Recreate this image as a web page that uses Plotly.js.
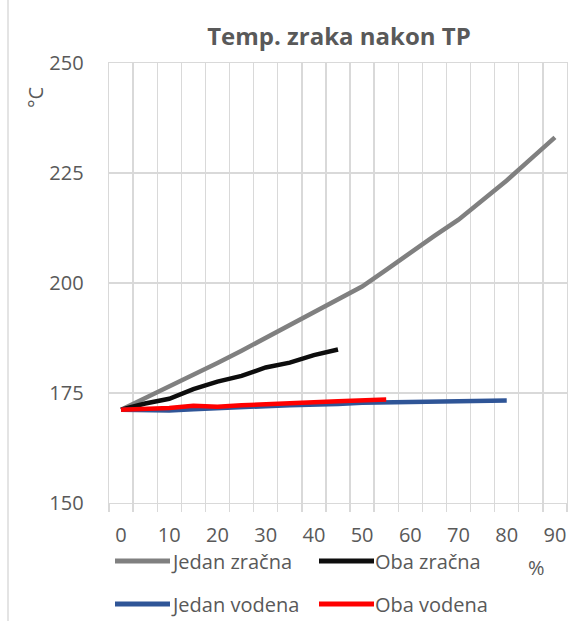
<!DOCTYPE html>
<html>
<head>
<meta charset="utf-8">
<script src="https://cdn.plot.ly/plotly-3.0.1.min.js"></script>
<style>html,body{margin:0;padding:0;background:#fff;}#chart{width:577px;height:621px;}</style>
</head>
<body>
<div id="chart"></div>
<script>
// ---- data ----
var seriesNames = ["Jedan zračna", "Oba zračna", "Jedan vodena", "Oba vodena"];
var seriesColors = ["#808080", "#0d0d0d", "#2f5597", "#ff0000"];

var xJedanZracna = [0,5,10,15,20,25,30,35,40,45,50,55,60,65,70,75,80,85,90];
var yJedanZracna = [171.2,173.8,176.5,179.1,181.8,184.6,187.5,190.5,193.5,196.4,199.2,203.0,207.0,210.7,214.4,218.7,223.3,228.2,233.1];

var xObaZracna = [0,5,10,15,20,25,30,35,40,45];
var yObaZracna = [171.2,172.6,173.7,175.9,177.6,178.9,180.8,181.9,183.6,184.9];

var xJedanVodena = [0,5,10,15,20,25,30,35,40,45,50,55,60,65,70,75,80];
var yJedanVodena = [171.2,171.1,171.0,171.3,171.6,171.8,172.0,172.2,172.3,172.5,172.8,172.9,173.0,173.1,173.2,173.3,173.3];

var xObaVodena = [0,5,10,15,20,25,30,35,40,45,50,55];
var yObaVodena = [171.2,171.3,171.6,172.1,171.9,172.2,172.5,172.7,172.9,173.1,173.3,173.5];

var xTickVals = [0,10,20,30,40,50,60,70,80,90];
var xCategoryEdges = [-2.5,2.5,7.5,12.5,17.5,22.5,27.5,32.5,37.5,42.5,47.5,52.5,57.5,62.5,67.5,72.5,77.5,82.5,87.5,92.5];
var yTickVals = [150,175,200,225,250];

var chartTitle = "Temp. zraka nakon TP";
var yTitle = "°C";
var xTitle = "%";

// ---- layout helpers ----
var W = 577, H = 621;
var M = {l:109, r:10, t:63, b:118};
var PW = W - M.l - M.r, PH = H - M.t - M.b;
function px(x){ return (x - M.l) / PW; }
function py(y){ return (H - M.b - y) / PH; }

var FONT = "Open Sans, sans-serif";
var TXT = "#595959";
var GRID = "#d9d9d9";
var GW = 1.4;

var xs = [xJedanZracna, xObaZracna, xJedanVodena, xObaVodena];
var ys = [yJedanZracna, yObaZracna, yJedanVodena, yObaVodena];
var traces = [
  // invisible carrier so the category-edge grid axis (x2) gets drawn
  {x: xJedanZracna, y: yJedanZracna, xaxis: "x2", yaxis: "y", type: "scatter", mode: "lines",
   line: {width: 0, color: "rgba(0,0,0,0)"}, opacity: 0, showlegend: false, hoverinfo: "skip"}
];
for (var i = 0; i < 4; i++) {
  traces.push({
    x: xs[i], y: ys[i], type: "scatter", mode: "lines", name: seriesNames[i],
    line: {color: seriesColors[i], width: 4.5},
    showlegend: false, hoverinfo: "x+y"
  });
}

// custom legend (Excel style, long line samples)
var legendPos = [
  {lx0:115, lx1:170, tx:170, y:561},
  {lx0:319, lx1:374, tx:374, y:561},
  {lx0:115, lx1:170, tx:170, y:604},
  {lx0:319, lx1:374, tx:374, y:604}
];
var shapes = [
  {type:"line", xref:"paper", yref:"paper", x0:px(8), x1:px(8), y0:py(621), y1:py(0),
   line:{color:GRID, width:GW}}
];
var annotations = [
  {text: yTitle, xref:"paper", yref:"paper", x:px(35), y:py(98), showarrow:false,
   textangle:-90, font:{family:FONT, size:20, color:TXT}, xanchor:"center", yanchor:"middle"},
  {text: xTitle, xref:"paper", yref:"paper", x:px(536), y:py(567), showarrow:false,
   font:{family:FONT, size:20, color:TXT}, xanchor:"center", yanchor:"middle"}
];
for (var j = 0; j < 4; j++) {
  var p = legendPos[j];
  shapes.push({type:"line", xref:"paper", yref:"paper", x0:px(p.lx0), x1:px(p.lx1),
    y0:py(p.y), y1:py(p.y), line:{color:seriesColors[j], width:5}});
  annotations.push({text: seriesNames[j], xref:"paper", yref:"paper", x:px(p.tx), y:py(p.y),
    showarrow:false, xanchor:"left", yanchor:"middle", borderpad:0,
    font:{family:FONT, size:20, color:TXT}});
}

var layout = {
  width: W, height: H,
  margin: M,
  paper_bgcolor: "#ffffff", plot_bgcolor: "#ffffff",
  font: {family: FONT, color: TXT, size: 20},
  title: {text: chartTitle, font:{family:FONT, size:24, color:TXT, weight:"bold"},
          x: px(339), xanchor:"center", y: 1 - 37/H, yanchor:"middle", xref:"paper"},
  showlegend: false,
  xaxis: {
    range: [-2.5, 92.5], tickmode: "array", tickvals: xTickVals,
    ticktext: xTickVals.map(String), ticks: "", showgrid: false, zeroline: false,
    showline: true, linecolor: GRID, linewidth: GW, mirror: true,
    ticklabelstandoff: 14, tickfont:{family:FONT, size:20, color:TXT},
    fixedrange: true
  },
  xaxis2: {
    overlaying: "x", side: "bottom", range: [-2.5, 92.5],
    tickmode: "array", tickvals: xCategoryEdges,
    ticks: "outside", ticklen: 8, tickcolor: GRID, tickwidth: GW,
    showgrid: true, gridcolor: GRID, gridwidth: GW, zeroline: false, showline: false,
    showticklabels: false, fixedrange: true
  },
  yaxis: {
    range: [150, 250], tickmode: "array", tickvals: yTickVals, ticks: "",
    showgrid: true, gridcolor: GRID, gridwidth: GW, zeroline: false,
    showline: true, linecolor: GRID, linewidth: GW, mirror: true,
    ticklabelstandoff: 20, tickfont:{family:FONT, size:20, color:TXT},
    fixedrange: true
  },
  shapes: shapes,
  annotations: annotations
};

Plotly.newPlot("chart", traces, layout, {staticPlot: true, displayModeBar: false});
</script>
</body>
</html>
